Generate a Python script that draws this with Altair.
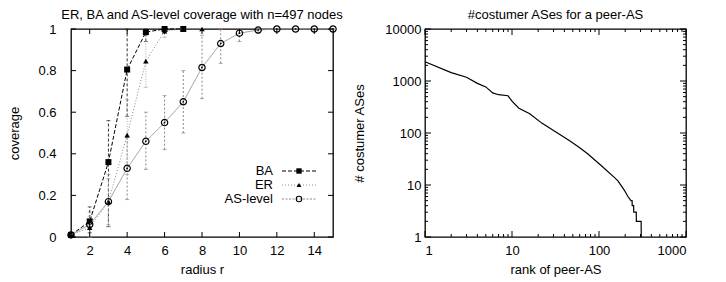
import altair as alt
import pandas as pd

FONT = "Liberation Sans"
FS = 13

# ---------------- left panel data ----------------
series_names = ["BA", "ER", "AS-level"]

ba_r = [1, 2, 3, 4, 5, 6, 7]
ba_cov = [0.01, 0.075, 0.36, 0.805, 0.985, 1.0, 1.0]
ba_lo = [0.0, 0.02, 0.05, 0.58, 0.94, 1.0, 1.0]
ba_hi = [0.02, 0.145, 0.56, 1.0, 1.0, 1.0, 1.0]

er_r = [1, 2, 3, 4, 5, 6, 7, 8]
er_cov = [0.01, 0.045, 0.17, 0.49, 0.845, 0.99, 1.0, 1.0]
er_lo = [0.0, 0.0, 0.06, 0.30, 0.72, 0.96, 1.0, 1.0]
er_hi = [0.02, 0.10, 0.30, 0.66, 0.97, 1.0, 1.0, 1.0]

as_r = [1, 2, 3, 4, 5, 6, 7, 8, 9, 10, 11, 12, 13, 14, 15]
as_cov = [0.01, 0.06, 0.17, 0.33, 0.46, 0.55, 0.65, 0.815, 0.93, 0.98, 0.995, 1.0, 1.0, 1.0, 1.0]
as_lo = [0.0, 0.0, 0.05, 0.18, 0.325, 0.42, 0.50, 0.665, 0.835, 0.94, 0.98, 1.0, 1.0, 1.0, 1.0]
as_hi = [0.02, 0.12, 0.28, 0.48, 0.60, 0.68, 0.80, 0.97, 1.0, 1.0, 1.0, 1.0, 1.0, 1.0, 1.0]

x_ticks_left = [2, 4, 6, 8, 10, 12, 14]
y_ticks_left = [0, 0.2, 0.4, 0.6, 0.8, 1.0]

# ---------------- right panel data ----------------
ranks = [1, 2, 3, 4, 5, 6, 7, 9, 10, 12, 16, 22, 30, 46, 60, 74, 105, 150, 165,
         195, 215, 233, 240, 241, 250, 251, 268, 269, 305, 306]
customers = [2350, 1450, 1180, 900, 770, 590, 545, 520, 410, 300, 235, 155, 112, 71, 52,
             40, 24, 14, 12, 8, 6, 5, 5, 4, 4, 3, 3, 2, 2, 1]

x_major_right = [1, 10, 100, 1000]
y_major_right = [1, 10, 100, 1000, 10000]
x_minor_right = [m * d for d in [1, 10, 100] for m in range(2, 10)]
y_minor_right = [m * d for d in [1, 10, 100, 1000] for m in range(2, 10)]

W1, W2, H = 262, 261, 208

styles = {
    "BA": dict(line="black", dash=[4, 2], bar="#333333", bardash=[3, 2], shape="square", filled=True, size=36),
    "ER": dict(line="#888888", dash=[1, 2], bar="#aaaaaa", bardash=[1, 1.5], shape="triangle-up", filled=True, size=30),
    "AS-level": dict(line="#999999", dash=[1, 0], bar="#888888", bardash=[2, 2], shape="circle", filled=False, size=40),
}

frames = {
    "BA": pd.DataFrame({"r": ba_r, "cov": ba_cov, "lo": ba_lo, "hi": ba_hi}),
    "ER": pd.DataFrame({"r": er_r, "cov": er_cov, "lo": er_lo, "hi": er_hi}),
    "AS-level": pd.DataFrame({"r": as_r, "cov": as_cov, "lo": as_lo, "hi": as_hi}),
}

x_axis_l = alt.Axis(values=x_ticks_left, title="radius r", labelPadding=7, titlePadding=6)
y_axis_l = alt.Axis(values=y_ticks_left, title="coverage", format="~g", labelPadding=15, titlePadding=16)
x_scale_l = alt.Scale(domain=[1, 15], nice=False, zero=False)
y_scale_l = alt.Scale(domain=[0, 1], nice=False, zero=False)


def xl(field):
    return alt.X(field, type="quantitative", scale=x_scale_l, axis=x_axis_l)


def yl(field):
    return alt.Y(field, type="quantitative", scale=y_scale_l, axis=y_axis_l)


layers = []
for name in series_names:
    st = styles[name]
    df = frames[name]
    base = alt.Chart(df)
    layers.append(base.mark_rule(color=st["bar"], strokeDash=st["bardash"], strokeWidth=1).encode(
        x=xl("r"), y=yl("lo"), y2="hi"))
    layers.append(base.mark_tick(orient="horizontal", size=4, thickness=1, color=st["bar"]).encode(
        x=xl("r"), y=yl("lo")))
    layers.append(base.mark_tick(orient="horizontal", size=4, thickness=1, color=st["bar"]).encode(
        x=xl("r"), y=yl("hi")))

for name in series_names:
    st = styles[name]
    df = frames[name]
    base = alt.Chart(df)
    layers.append(base.mark_line(color=st["line"], strokeDash=st["dash"], strokeWidth=1).encode(
        x=xl("r"), y=yl("cov")))
    if st["filled"]:
        layers.append(base.mark_point(shape=st["shape"], filled=True, color="black", size=st["size"], opacity=1).encode(
            x=xl("r"), y=yl("cov")))
    else:
        layers.append(base.mark_point(shape="circle", filled=False, color="black", strokeWidth=1.2,
                                      size=st["size"], opacity=1).encode(x=xl("r"), y=yl("cov")))
        layers.append(base.mark_point(shape="circle", filled=True, color="black", size=3, opacity=1).encode(
            x=xl("r"), y=yl("cov")))

# inner ticks (left panel)
xt = alt.Chart(pd.DataFrame({"t": x_ticks_left}))
yt = alt.Chart(pd.DataFrame({"t": y_ticks_left}))
layers.append(xt.mark_rule(color="black").encode(x=xl("t"), y=alt.value(H), y2=alt.value(H - 5)))
layers.append(xt.mark_rule(color="black").encode(x=xl("t"), y=alt.value(0), y2=alt.value(5)))
layers.append(yt.mark_rule(color="black").encode(y=yl("t"), x=alt.value(0), x2=alt.value(5)))
layers.append(yt.mark_rule(color="black").encode(y=yl("t"), x=alt.value(W1), x2=alt.value(W1 - 5)))

# legend
leg_y = {"BA": 171, "ER": 185, "AS-level": 199}
for name in series_names:
    st = styles[name]
    ld = alt.Chart(pd.DataFrame({"label": [name]}))
    yv = leg_y[name] - 29
    layers.append(ld.mark_text(align="right", baseline="middle", font=FONT, fontSize=FS, color="black").encode(
        x=alt.value(202), y=alt.value(yv), text="label:N"))
    layers.append(ld.mark_rule(color=st["line"] if name != "AS-level" else "#888888",
                               strokeDash=st["dash"] if name != "AS-level" else [2, 1.5]).encode(
        x=alt.value(211), x2=alt.value(246), y=alt.value(yv)))
    if st["filled"]:
        layers.append(ld.mark_point(shape=st["shape"], filled=True, color="black", size=st["size"] * 0.8,
                                    opacity=1).encode(x=alt.value(228), y=alt.value(yv)))
    else:
        layers.append(ld.mark_point(shape="circle", filled=False, color="black", strokeWidth=1.1, size=30,
                                    opacity=1).encode(x=alt.value(228), y=alt.value(yv)))

left = alt.layer(*layers).properties(
    width=W1, height=H,
    title=alt.TitleParams("ER, BA and AS-level coverage with n=497 nodes", font=FONT, fontSize=FS,
                          fontWeight="normal", anchor="middle", offset=1, color="black"),
)

# ---------------- right panel ----------------
x_scale_r = alt.Scale(type="log", domain=[1, 1000], nice=False)
y_scale_r = alt.Scale(type="log", domain=[1, 10000], nice=False)
x_axis_r = alt.Axis(values=x_major_right, format="d", title="rank of peer-AS", labelPadding=7, titlePadding=6)
y_axis_r = alt.Axis(values=y_major_right, format="d", title="# costumer ASes", labelPadding=4, titlePadding=18)


def xr(field):
    return alt.X(field, type="quantitative", scale=x_scale_r, axis=x_axis_r)


def yr(field):
    return alt.Y(field, type="quantitative", scale=y_scale_r, axis=y_axis_r)


rlayers = []
rlayers.append(alt.Chart(pd.DataFrame({"rank": ranks, "cust": customers})).mark_line(
    color="black", strokeWidth=1.2).encode(x=xr("rank"), y=yr("cust")))

for vals, ln in [(x_major_right, 6), (x_minor_right, 3)]:
    c = alt.Chart(pd.DataFrame({"t": vals}))
    rlayers.append(c.mark_rule(color="black").encode(x=xr("t"), y=alt.value(H), y2=alt.value(H - ln)))
    rlayers.append(c.mark_rule(color="black").encode(x=xr("t"), y=alt.value(0), y2=alt.value(ln)))
for vals, ln in [(y_major_right, 6), (y_minor_right, 3)]:
    c = alt.Chart(pd.DataFrame({"t": vals}))
    rlayers.append(c.mark_rule(color="black").encode(y=yr("t"), x=alt.value(0), x2=alt.value(ln)))
    rlayers.append(c.mark_rule(color="black").encode(y=yr("t"), x=alt.value(W2), x2=alt.value(W2 - ln)))

right = alt.layer(*rlayers).properties(
    width=W2, height=H,
    title=alt.TitleParams("#costumer ASes for a peer-AS", font=FONT, fontSize=FS,
                          fontWeight="normal", anchor="middle", offset=1, color="black"),
)

chart = alt.hconcat(left, right, spacing=8).properties(
    padding={"left": 0, "top": 0, "right": 5, "bottom": 0},
    background="white",
).configure_view(
    stroke="black", strokeWidth=1.3
).configure_axis(
    grid=False, domain=False, ticks=False,
    labelFont=FONT, labelFontSize=FS, labelColor="black",
    titleFont=FONT, titleFontSize=FS, titleColor="black", titleFontWeight="normal",
)

chart.save("out.html", embed_options={"renderer": "svg", "actions": False})
